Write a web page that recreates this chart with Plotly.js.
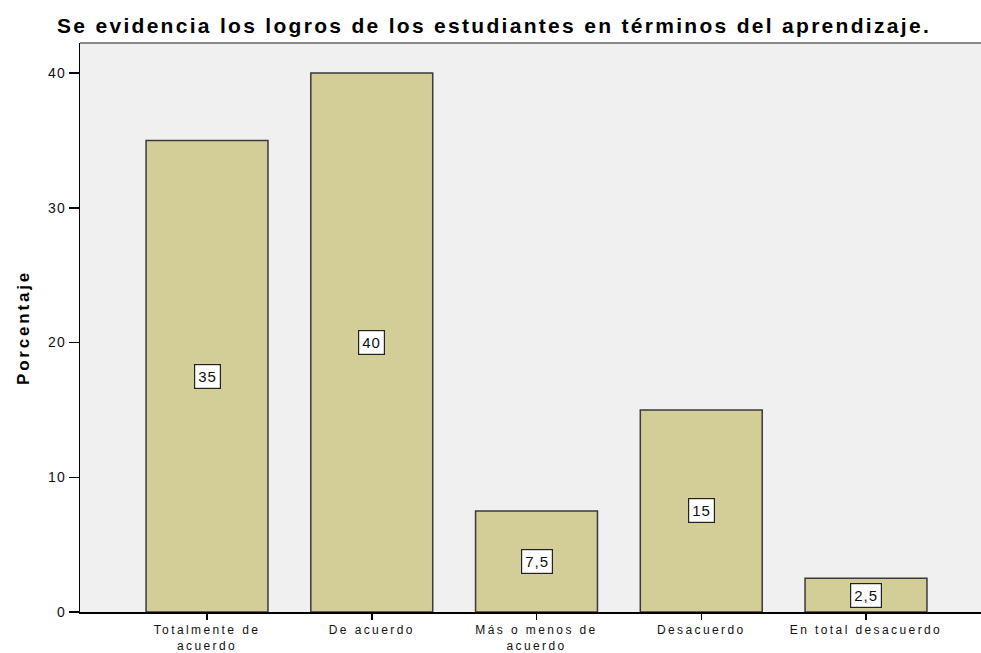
<!DOCTYPE html>
<html><head><meta charset="utf-8">
<script src="https://cdn.plot.ly/plotly-3.0.1.min.js"></script>
<style>
body{margin:0;background:#fff}#c{width:981px;height:653px}
.gtitle{letter-spacing:2.3px}
.xtick text{letter-spacing:2.4px}
.ytick text{letter-spacing:1px}
.ytitle{letter-spacing:2.8px}
.annotation-text{letter-spacing:1px}
</style>
</head><body><div id="c"></div>
<script>
const categories = ["Totalmente de<br>acuerdo", "De acuerdo", "Más o menos de<br>acuerdo", "Desacuerdo", "En total desacuerdo"];
const values = [35, 40, 7.5, 15, 2.5];
const yTicks = [0, 10, 20, 30, 40];

const idx = categories.map((_, i) => i);
const trace = {
  type: 'bar', x: idx, y: values, width: 0.74,
  marker: {color: '#d3ce97', line: {color: '#3a3a3a', width: 1.5}},
  hoverinfo: 'none'
};
const annotations = values.map((v, i) => ({
  x: i, y: v / 2, xref: 'x', yref: 'y',
  text: String(v).replace('.', ','), showarrow: false,
  bgcolor: '#ffffff', bordercolor: '#222', borderwidth: 1.2, borderpad: 3,
  font: {family: 'Arial, Liberation Sans', size: 15, color: '#111'}
}));
const layout = {
  width: 981, height: 653,
  margin: {l: 80, r: 0, t: 43, b: 41},
  paper_bgcolor: '#ffffff', plot_bgcolor: '#f0f0f0',
  showlegend: false,
  title: {text: '<b>Se evidencia los logros de los estudiantes en términos del aprendizaje.</b>',
    x: 57/981, xanchor: 'left', y: 1 - 26/653, yanchor: 'middle',
    font: {family: 'Arial, Liberation Sans', size: 21, color: '#000'}},
  xaxis: {range: [-0.771, 4.698], tickmode: 'array', tickvals: idx, ticktext: categories,
    ticks: 'outside', ticklen: 6, tickcolor: '#000', tickwidth: 1.5,
    showline: true, linecolor: '#000', linewidth: 1.5, showgrid: false, zeroline: false,
    tickfont: {family: 'Arial, Liberation Sans', size: 12, color: '#111'}},
  yaxis: {range: [0, 42.23], tickmode: 'array', tickvals: yTicks, ticktext: yTicks.map(String),
    ticks: 'outside', ticklen: 10, tickcolor: '#000', tickwidth: 1.5,
    showline: true, linecolor: '#000', linewidth: 1.5, showgrid: false, zeroline: false,
    tickfont: {family: 'Arial, Liberation Sans', size: 14, color: '#111'},
    title: {text: '<b>Porcentaje</b>', standoff: 14,
      font: {family: 'Arial, Liberation Sans', size: 17, color: '#000'}}},
  annotations: annotations,
  shapes: [{type: 'line', xref: 'paper', yref: 'paper', x0: 0, x1: 1, y0: 1, y1: 1,
    line: {color: '#888', width: 2}}]
};
Plotly.newPlot('c', [trace], layout, {displayModeBar: false, staticPlot: true});
</script></body></html>
